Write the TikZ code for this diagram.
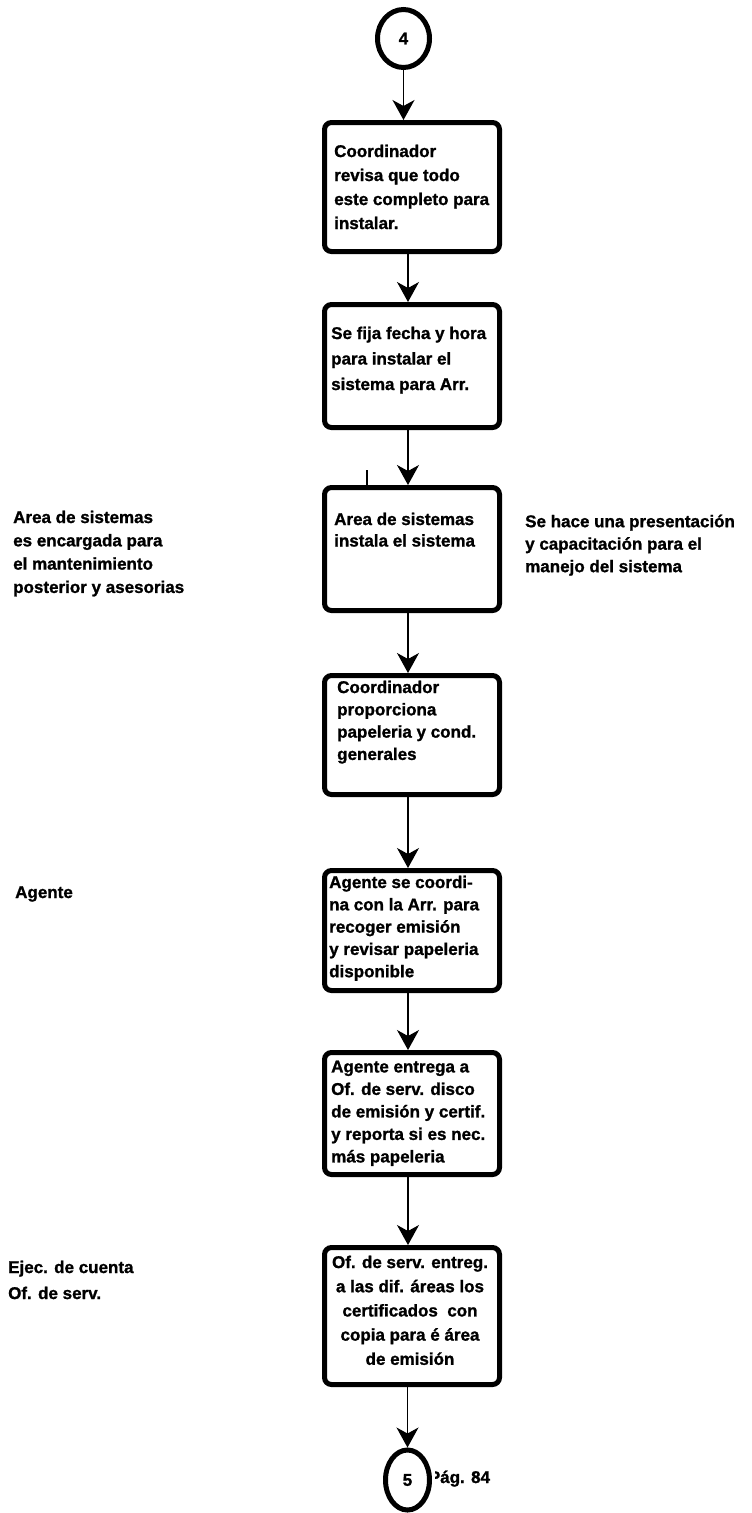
\documentclass[tikz,border=0pt]{standalone}
\usepackage{fontspec}
\setmainfont{Liberation Sans}[BoldFeatures={FakeBold=1.2}]
\usetikzlibrary{arrows.meta,shapes.geometric}

\begin{document}
\begin{tikzpicture}[x=1pt,y=-1pt,
  every node/.style={inner sep=0pt},
  stepbox/.style={draw=black, line width=5pt, rounded corners=7pt, minimum width=175pt},
  terminal/.style={draw=black, fill=white, ellipse, line width=5pt,
    font=\fontsize{17}{20}\selectfont\bfseries},
  flow/.style={line width=1.2pt, -{Stealth[length=20pt,width=22pt,inset=6pt]}},
  txt/.style={font=\fontsize{17}{#1}\selectfont\bfseries, align=left, anchor=north west},
  txt/.default=23.5,
  ctxt/.style={font=\fontsize{17}{#1}\selectfont\bfseries, align=center, anchor=north},
  ctxt/.default=23.5,
  single/.style={font=\fontsize{17}{20}\selectfont\bfseries, anchor=base west}]

% page frame
\useasboundingbox (0,0) rectangle (752,1513);

% vertical axis of the connectors
\coordinate (axis) at (408,0);

% connector circle at the top
\node[terminal, minimum width=52pt, minimum height=58pt] (c4) at (403.5,38.5) {4};

% process boxes
\node[stepbox, minimum height=129pt] (b1) at (412,187) {};
\node[stepbox, minimum height=123pt] (b2) at (412,366) {};
\node[stepbox, minimum height=123pt] (b3) at (412,549) {};
\node[stepbox, minimum height=119pt] (b4) at (412,735) {};
\node[stepbox, minimum height=120pt] (b5) at (412,930.5) {};
\node[stepbox, minimum height=122pt] (b6) at (412,1113.5) {};
\node[stepbox, minimum height=137pt] (b7) at (412,1316) {};

% box texts
\node[txt=24] (t1) at (334,144.5) {Coordinador\\revisa que todo\\este completo para\\instalar.};
\node[txt=25.5] (t2) at (331,326.5) {Se fija fecha y hora\\para instalar el\\sistema para Arr.};
\node[txt=21.5] (t3) at (334,512.5) {Area de sistemas\\instala el sistema};
\node[txt=22.3] (t4) at (337,680.5) {Coordinador\\proporciona\\papeleria y cond.\\generales};
\node[txt=22.3] (t5) at (329,875.5) {Agente se coordi-\\na con la Arr. para\\recoger emisión\\y revisar papeleria\\disponible};
\node[txt=22.5] (t6) at (331,1060.5) {Agente entrega a\\Of. de serv. disco\\de emisión y certif.\\y reporta si es nec.\\más papeleria};
\node[ctxt=24.2] (t7) at (410,1255.5) {Of. de serv. entreg.\\a las dif. áreas los\\certificados\ \ con\\copia para é área\\de emisión};

% side notes
\node[txt=23.3] (n1) at (13,510.5) {Area de sistemas\\es encargada para\\el mantenimiento\\posterior y asesorias};
\node[txt=22.5] (n2) at (525,514.5) {Se hace una presentación\\y capacitación para el\\manejo del sistema};
\node[single] (n3) at (15,898) {Agente};
\node[txt=26] (n4) at (8,1260.5) {Ejec. de cuenta\\Of. de serv.};

% page reference beside the closing connector, its first letter cut by the circle
\begin{scope}
  \clip (435,1455) rectangle (520,1500);
  \node[single] (pg) at (428.7,1483) {Pág. 84};
\end{scope}
\node[terminal, minimum width=44pt, minimum height=60pt] (c5) at (407.5,1480) {5};

% connectors
\draw[flow] (c4.south) -- (c4 |- b1.north);
\draw[flow] (b1.south -| axis) -- (b2.north -| axis);
\draw[flow] (b2.south -| axis) -- (b3.north -| axis);
\draw[flow] (b3.south -| axis) -- (b4.north -| axis);
\draw[flow] (b4.south -| axis) -- (b5.north -| axis);
\draw[flow] (b5.south -| axis) -- (b6.north -| axis);
\draw[flow] (b6.south -| axis) -- (b7.north -| axis);
\draw[flow] (b7.south -| c5) -- (c5.north);

% short tick above the third box
\coordinate (tick) at (367,470);
\draw[line width=1.2pt] (tick) -- (tick |- b3.north);
\end{tikzpicture}
\end{document}
